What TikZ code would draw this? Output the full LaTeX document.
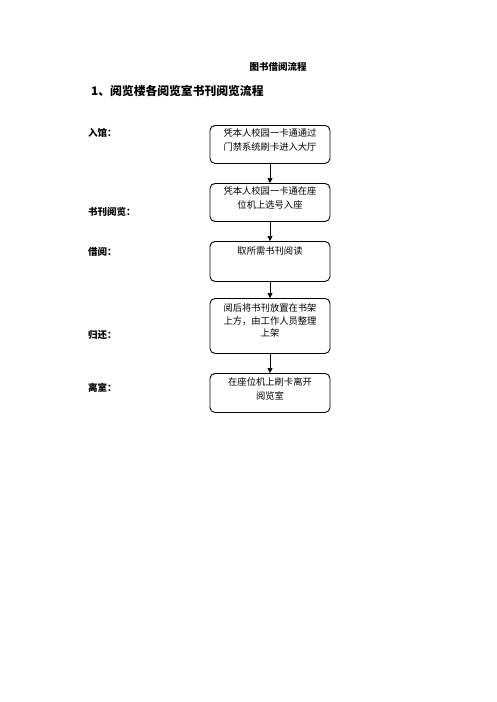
\documentclass[tikz,border=0pt]{standalone}
\usepackage{fontspec}
\setmainfont{Noto Sans CJK SC}
\usetikzlibrary{arrows.meta}
\begin{document}
\begin{tikzpicture}[x=1pt,y=-1pt,
  flowbox/.style={draw, line width=0.9pt, rounded corners=5pt, inner sep=0pt, font=\fontsize{9.3}{13.5}\selectfont},
  lbl/.style={anchor=west, inner sep=0pt, font=\fontsize{9.5}{11}\selectfont\bfseries},
  conn/.style={draw, line width=0.5pt, -{Triangle[length=5pt,width=5pt]}}]
\useasboundingbox (0,0) rectangle (496,702);
\node[inner sep=0pt, font=\fontsize{9.5}{11}\selectfont\bfseries] (title) at (278,67) {图书借阅流程};
\node[anchor=west, inner sep=0pt, font=\fontsize{11.8}{13}\selectfont\bfseries] (sub) at (91,91) {1、阅览楼各阅览室书刊阅览流程};
\newcommand{\boxtext}[2]{\parbox[c][#1][t]{120pt}{\centering\vspace*{3.5pt}#2}}
\node[flowbox, anchor=north] (b1) at (270,125) {\boxtext{38pt}{凭本人校园一卡通通过\\门禁系统刷卡进入大厅}};
\node[flowbox, anchor=north] (b2) at (270,183) {\boxtext{38pt}{凭本人校园一卡通在座\\位机上选号入座}};
\node[flowbox, anchor=north] (b3) at (270,241) {\boxtext{40pt}{\vspace*{2pt}取所需书刊阅读}};
\node[flowbox, anchor=north, font=\fontsize{9.3}{12.5}\selectfont] (b4) at (270,298) {\boxtext{55pt}{\vspace*{2pt}阅后将书刊放置在书架\\上方，由工作人员整理\\上架}};
\node[flowbox, anchor=north] (b5) at (270,373) {\boxtext{39pt}{\vspace*{1pt}在座位机上刷卡离开\\阅览室}};
\draw[conn] (b1) -- (b2);
\draw[conn] (b2) -- (b3);
\draw[conn] (b3) -- (b4);
\draw[conn] (b4) -- (b5);
\node[lbl] (l1) at (88,133) {入馆：};
\node[lbl] (l2) at (88,212) {书刊阅览：};
\node[lbl] (l3) at (88,252) {借阅：};
\node[lbl] (l4) at (88,335) {归还：};
\node[lbl] (l5) at (88,388) {离室：};
\end{tikzpicture}
\end{document}
